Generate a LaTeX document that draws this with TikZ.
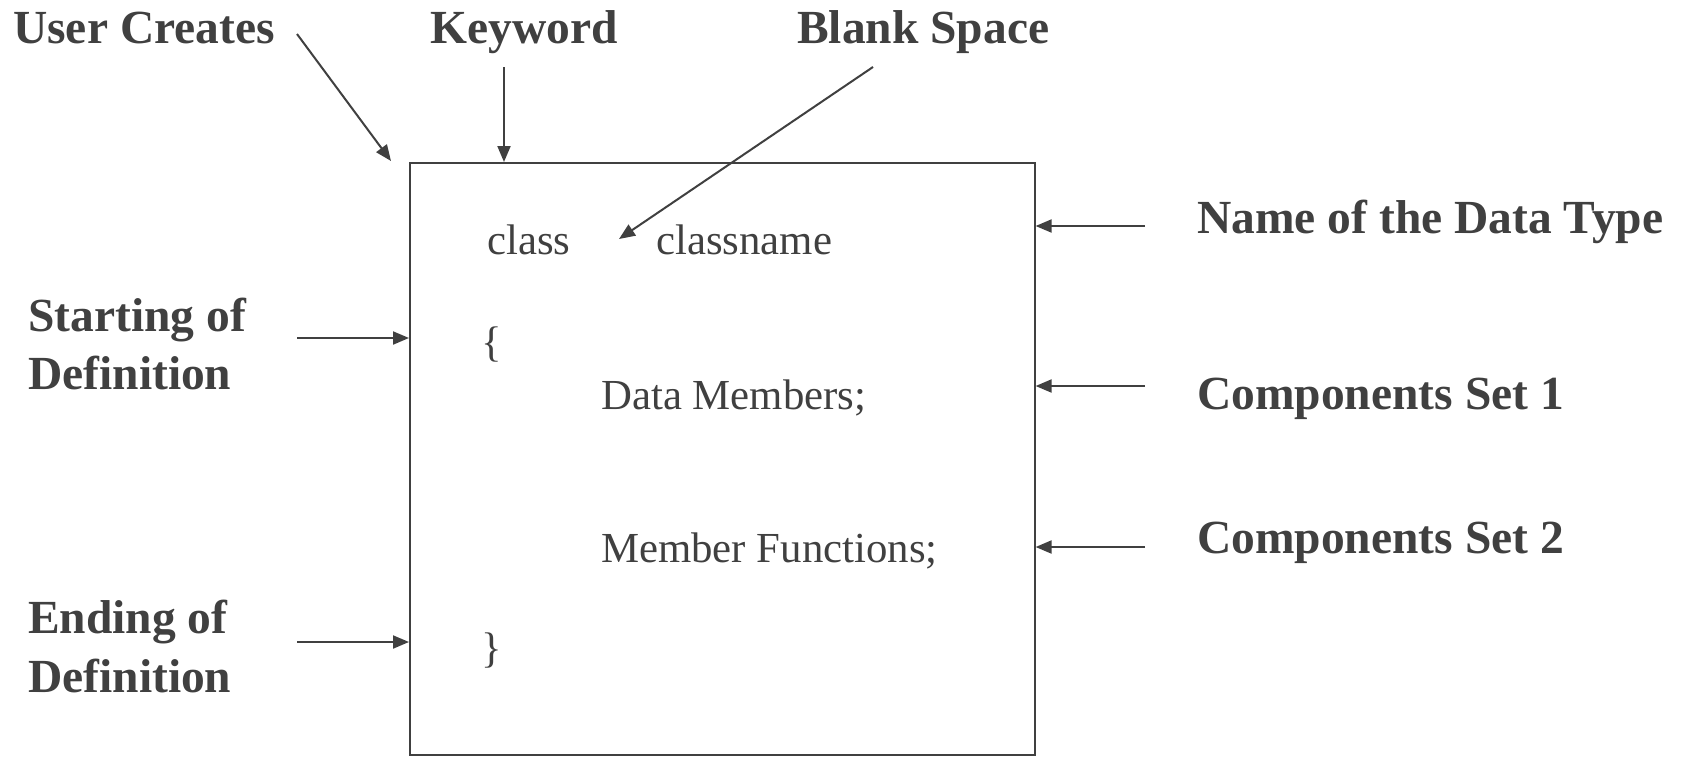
\documentclass[tikz,border=0pt]{standalone}
\usepackage{fontspec}
\setmainfont{Liberation Serif}
\usetikzlibrary{arrows.meta}
\definecolor{ink}{RGB}{64,64,64}
\tikzset{
  lbl/.style={inner sep=0pt, anchor=base west, text=ink, font=\fontsize{47.5}{58}\selectfont\bfseries},
  code/.style={inner sep=0pt, anchor=base west, text=ink, font=\fontsize{42.8}{50}\selectfont},
  arr/.style={draw=ink, line width=2pt, -{Triangle[length=16pt,width=13pt]}},
  frame/.style={draw=ink, line width=1.6pt, inner sep=0pt}
}
\begin{document}
\begin{tikzpicture}[x=1pt,y=-1pt]
\useasboundingbox (0,0) rectangle (1686,756);
% main box
\node[frame, minimum width=625pt, minimum height=592pt, anchor=north west] (box) at (409,162) {};
% labels
\node[lbl] (uc) at (13,43) {User Creates};
\node[lbl] (kw) at (430,43) {Keyword};
\node[lbl] (bs) at (797,43) {Blank Space};
\node[lbl] (nm) at (1197,233) {Name of the Data Type};
\node[lbl] (c1) at (1197,409) {Components Set 1};
\node[lbl] (c2) at (1197,553) {Components Set 2};
\node[lbl] (st1) at (28,331) {Starting of};
\node[lbl] (st2) at (28,389) {Definition};
\node[lbl] (en1) at (28,633) {Ending of};
\node[lbl] (en2) at (28,692) {Definition};
% code text
\node[code] (cls) at (487,254) {class};
\node[code] (cn) at (656,254) {classname};
\node[code] (lb) at (481,356) {\{};
\node[code] (dm) at (601,409) {Data Members;};
\node[code] (mf) at (601,562) {Member Functions;};
\node[code] (rb) at (481,662) {\}};
% connector end points
\coordinate (ucS) at (297,34);
\coordinate (ucE) at (391,161);
\coordinate (kwS) at (504,67);
\coordinate (bsS) at (873,67);
\coordinate (bsE) at (619,239);
\coordinate (nmS) at (1145,226);
\coordinate (c1S) at (1145,386);
\coordinate (c2S) at (1145,547);
\coordinate (stS) at (297,338);
\coordinate (enS) at (297,642);
% connectors
\draw[arr] (ucS) -- (ucE);
\draw[arr] (kwS) -- (kwS |- box.north);
\draw[arr] (bsS) -- (bsE);
\draw[arr] (nmS) -- (nmS -| box.east);
\draw[arr] (c1S) -- (c1S -| box.east);
\draw[arr] (c2S) -- (c2S -| box.east);
\draw[arr] (stS) -- (stS -| box.west);
\draw[arr] (enS) -- (enS -| box.west);
\end{tikzpicture}
\end{document}
